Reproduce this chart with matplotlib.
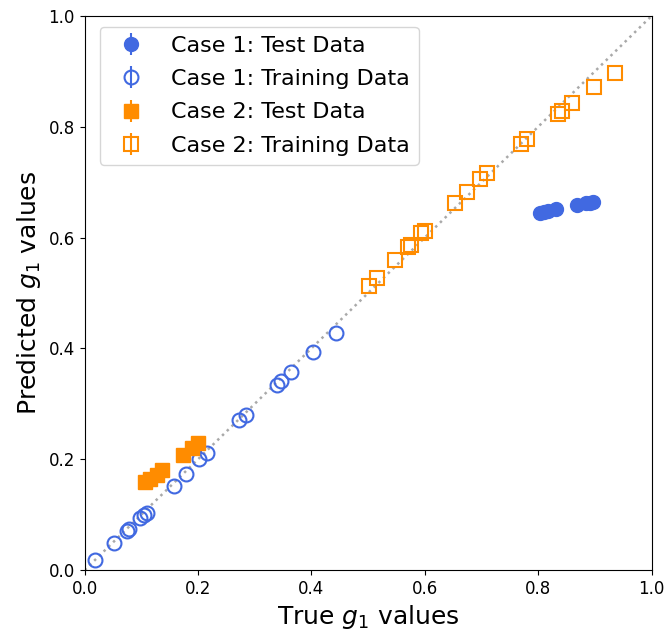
import numpy as np
import matplotlib
matplotlib.use("Agg")
import matplotlib.pyplot as plt

# case 1 (blue circles)
c1_train_x = [0.019, 0.051, 0.075, 0.079, 0.097, 0.104, 0.109, 0.157, 0.178, 0.201, 0.215,
              0.273, 0.284, 0.339, 0.347, 0.363, 0.402, 0.443]
c1_train_y = [0.018, 0.049, 0.071, 0.074, 0.094, 0.099, 0.103, 0.152, 0.173, 0.200, 0.211,
              0.271, 0.280, 0.334, 0.341, 0.357, 0.394, 0.428]
c1_test_x = [0.803, 0.810, 0.818, 0.831, 0.868, 0.884, 0.891, 0.896]
c1_test_y = [0.644, 0.646, 0.648, 0.652, 0.658, 0.662, 0.663, 0.664]

# case 2 (orange squares)
c2_train_x = [0.501, 0.515, 0.548, 0.571, 0.575, 0.594, 0.601, 0.653, 0.674, 0.698, 0.709,
              0.769, 0.780, 0.834, 0.841, 0.859, 0.899, 0.936]
c2_train_y = [0.513, 0.527, 0.559, 0.583, 0.587, 0.608, 0.612, 0.662, 0.682, 0.706, 0.716,
              0.769, 0.778, 0.823, 0.829, 0.843, 0.872, 0.897]
c2_test_x = [0.106, 0.115, 0.127, 0.136, 0.173, 0.189, 0.199]
c2_test_y = [0.159, 0.164, 0.171, 0.180, 0.208, 0.220, 0.229]

blue = 'royalblue'
orange = 'darkorange'

fig = plt.figure(figsize=(6.67, 6.33), dpi=100)
ax = fig.add_axes([0.127, 0.0995, 0.85, 0.8755])

ax.plot([0, 1], [0, 1], ':', color='darkgray', lw=1.8, zorder=0)

ax.errorbar(c1_test_x, c1_test_y, yerr=np.zeros(len(c1_test_x)), fmt='o', color=blue,
            ms=10, label='Case 1: Test Data')
ax.errorbar(c1_train_x, c1_train_y, yerr=np.zeros(len(c1_train_x)), fmt='o', color=blue,
            mfc='none', mew=1.5, ms=10, label='Case 1: Training Data')
ax.errorbar(c2_test_x, c2_test_y, yerr=np.zeros(len(c2_test_x)), fmt='s', color=orange,
            ms=10, label='Case 2: Test Data')
ax.errorbar(c2_train_x, c2_train_y, yerr=np.zeros(len(c2_train_x)), fmt='s', color=orange,
            mfc='none', mew=1.5, ms=10, label='Case 2: Training Data')

ax.set_xlim(0, 1)
ax.set_ylim(0, 1)
ax.set_xlabel('True $g_1$ values', fontsize=18)
ax.set_ylabel('Predicted $g_1$ values', fontsize=18)
ax.tick_params(labelsize=12)
ax.legend(loc='upper left', fontsize=16, labelspacing=0.6, bbox_to_anchor=(0.007, 1.0))

plt.savefig('out.png')
